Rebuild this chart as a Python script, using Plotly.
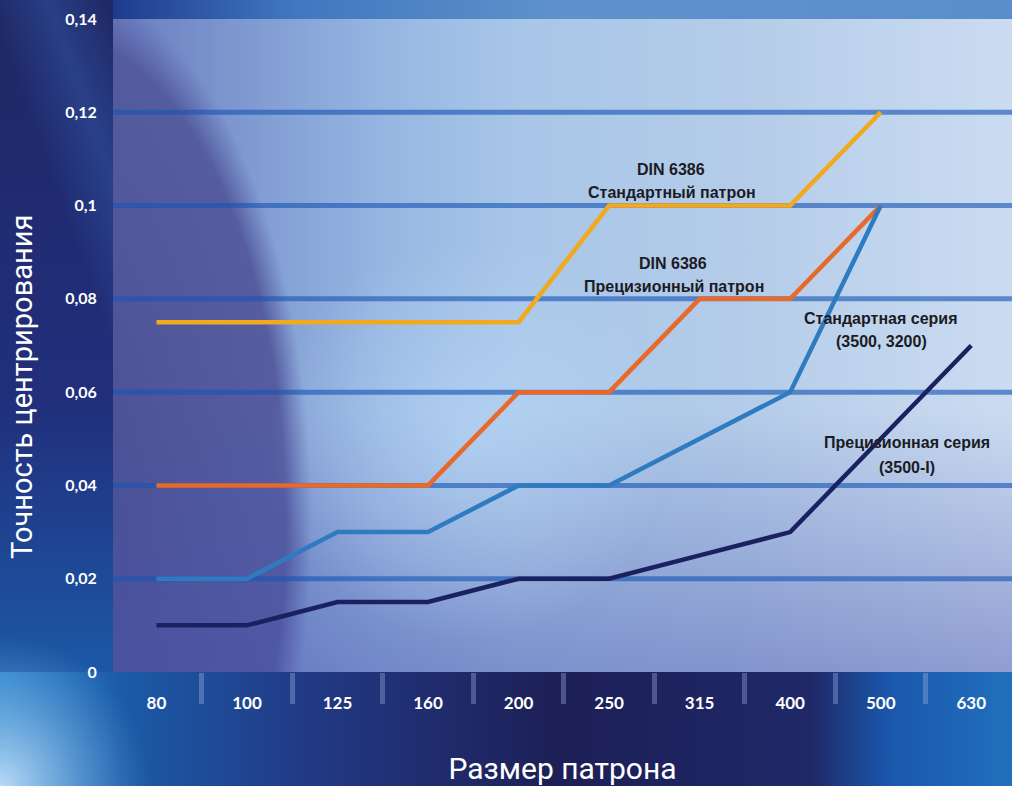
import base64
import plotly.graph_objects as go

# ---------------- data ----------------
sizes = ["80", "100", "125", "160", "200", "250", "315", "400", "500", "630"]
din_standard = [0.075, 0.075, 0.075, 0.075, 0.075, 0.1, 0.1, 0.1, 0.12, None]
din_precision = [0.04, 0.04, 0.04, 0.04, 0.06, 0.06, 0.08, 0.08, 0.1, None]
std_series = [0.02, 0.02, 0.03, 0.03, 0.04, 0.04, 0.05, 0.06, 0.1, None]
prec_series = [0.01, 0.01, 0.015, 0.015, 0.02, 0.02, 0.025, 0.03, 0.05, 0.07]
grid_values = [0.02, 0.04, 0.06, 0.08, 0.1, 0.12]
y_ticks = [0, 0.02, 0.04, 0.06, 0.08, 0.1, 0.12, 0.14]

W, H = 1012, 786
PX_L, PX_T, PX_B = 113, 19, 672  # plot panel edges in px

# ---------------- decorative background (svg) ----------------
svg = f'''<svg xmlns="http://www.w3.org/2000/svg" width="{W}" height="{H}" viewBox="0 0 {W} {H}" preserveAspectRatio="none">
<defs>
<clipPath id="pclip"><rect x="{PX_L}" y="{PX_T}" width="{W - PX_L}" height="{PX_B - PX_T}"/></clipPath>
<linearGradient id="bot" gradientUnits="userSpaceOnUse" x1="0" y1="0" x2="{W}" y2="0">
 <stop offset="0" stop-color="#2f86cc"/><stop offset="0.12" stop-color="#1b5ba8"/>
 <stop offset="0.3" stop-color="#223a86"/><stop offset="0.55" stop-color="#1d1f56"/>
 <stop offset="0.8" stop-color="#1f2868"/><stop offset="0.88" stop-color="#1a58ac"/>
 <stop offset="1" stop-color="#2170bc"/>
</linearGradient>
<linearGradient id="left" gradientUnits="userSpaceOnUse" x1="0" y1="0" x2="0" y2="{PX_B}">
 <stop offset="0" stop-color="#1f2764"/><stop offset="0.6" stop-color="#212f7c"/>
 <stop offset="1" stop-color="#1c58a6"/>
</linearGradient>
<linearGradient id="streak" gradientUnits="userSpaceOnUse" x1="0" y1="40" x2="110" y2="0">
 <stop offset="0" stop-color="#3a6ac0" stop-opacity="0"/><stop offset="0.5" stop-color="#3a6ac0" stop-opacity="0.35"/>
 <stop offset="1" stop-color="#3a6ac0" stop-opacity="0"/>
</linearGradient>
<linearGradient id="top" gradientUnits="userSpaceOnUse" x1="{PX_L}" y1="0" x2="{W}" y2="0">
 <stop offset="0" stop-color="#1f3a8c"/><stop offset="0.2" stop-color="#3f78bf"/>
 <stop offset="0.5" stop-color="#5f92cc"/><stop offset="1" stop-color="#5a8ecb"/>
</linearGradient>
<radialGradient id="corner" gradientUnits="userSpaceOnUse" cx="0" cy="{H}" r="150">
 <stop offset="0" stop-color="#b8daf6" stop-opacity="1"/><stop offset="1" stop-color="#6aa8e0" stop-opacity="0"/>
</radialGradient>
<linearGradient id="panel" gradientUnits="userSpaceOnUse" x1="{PX_L}" y1="0" x2="{W}" y2="0">
 <stop offset="0" stop-color="#6a7cc0"/><stop offset="0.15" stop-color="#7f9ad0"/>
 <stop offset="0.3" stop-color="#96b6e2"/>
 <stop offset="0.45" stop-color="#a8c6e8"/><stop offset="0.7" stop-color="#b4cce9"/>
 <stop offset="1" stop-color="#cbdcf1"/>
</linearGradient>
<radialGradient id="darkarc">
 <stop offset="0" stop-color="#474c8e" stop-opacity="0.95"/>
 <stop offset="0.9" stop-color="#535a9e" stop-opacity="0.95"/>
 <stop offset="1" stop-color="#5a62a6" stop-opacity="0"/>
</radialGradient>
<linearGradient id="pdark" gradientUnits="userSpaceOnUse" x1="0" y1="{PX_T}" x2="0" y2="{PX_B}">
 <stop offset="0" stop-color="#4650aa" stop-opacity="0"/><stop offset="0.6" stop-color="#4650aa" stop-opacity="0"/>
 <stop offset="1" stop-color="#4650aa" stop-opacity="0.45"/>
</linearGradient>
<radialGradient id="glow" gradientUnits="userSpaceOnUse" cx="470" cy="440" r="200">
 <stop offset="0" stop-color="#bedcf8" stop-opacity="0.55"/><stop offset="1" stop-color="#bedcf8" stop-opacity="0"/>
</radialGradient>
</defs>
<rect x="0" y="0" width="{W}" height="{H}" fill="#212a6c"/>
<rect x="0" y="0" width="{PX_L}" height="{PX_B}" fill="url(#left)"/>
<rect x="0" y="0" width="{PX_L}" height="{PX_B}" fill="url(#streak)"/>
<rect x="0" y="{PX_B}" width="{W}" height="{H - PX_B}" fill="url(#bot)"/>
<rect x="{PX_L}" y="0" width="{W - PX_L}" height="{PX_T}" fill="url(#top)"/>
<rect x="0" y="0" width="{W}" height="{H}" fill="url(#corner)"/>
<g clip-path="url(#pclip)">
<rect x="{PX_L}" y="{PX_T}" width="{W - PX_L}" height="{PX_B - PX_T}" fill="url(#panel)"/>
<ellipse cx="50" cy="520" rx="262" ry="540" fill="url(#darkarc)"/>
<rect x="{PX_L}" y="{PX_T}" width="{W - PX_L}" height="{PX_B - PX_T}" fill="url(#pdark)"/>
<rect x="{PX_L}" y="{PX_T}" width="{W - PX_L}" height="{PX_B - PX_T}" fill="url(#glow)"/>
</g>
</svg>'''
bg_uri = "data:image/svg+xml;base64," + base64.b64encode(svg.encode("utf-8")).decode("ascii")

# ---------------- figure ----------------
fig = go.Figure()

series = [
    ("DIN 6386 Стандартный патрон", din_standard, "#f2a81f"),
    ("DIN 6386 Прецизионный патрон", din_precision, "#e8692a"),
    ("Стандартная серия (3500, 3200)", std_series, "#2f7bc0"),
    ("Прецизионная серия (3500-I)", prec_series, "#1b2160"),
]
for name, vals, col in series:
    fig.add_trace(go.Scatter(x=sizes, y=vals, mode="lines", name=name,
                             line=dict(color=col, width=4.5), connectgaps=False,
                             hoverinfo="x+y+name"))

for g in grid_values:
    fig.add_hline(y=g, line=dict(color="rgba(25,85,180,0.62)", width=5), layer="below")

fig.add_layout_image(dict(source=bg_uri, xref="paper", yref="paper", x=0, y=1,
                          sizex=1, sizey=1, sizing="stretch", xanchor="left",
                          yanchor="top", layer="below"))

ann_font = dict(family="Liberation Sans, Arial, sans-serif", size=16, color="#1b1b24")
labels = [
    ("DIN 6386", 671, 169), ("Стандартный патрон", 672, 193),
    ("DIN 6386", 673, 263), ("Прецизионный патрон", 674, 287),
    ("Стандартная серия", 881, 318), ("(3500, 3200)", 881, 342),
    ("Прецизионная серия", 907, 443), ("(3500-I)", 907, 467),
]
for txt, px, py in labels:
    fig.add_annotation(text=f"<b>{txt}</b>",
                       xref="paper", yref="paper", x=px / W, y=1 - py / H,
                       showarrow=False, font=ann_font, xanchor="center", yanchor="middle")

fig.add_annotation(text="Точность центрирования", xref="paper", yref="paper",
                   x=22 / W, y=1 - 387 / H, textangle=-90, showarrow=False,
                   font=dict(family="Liberation Sans Narrow, Roboto, sans-serif", size=29, color="white"),
                   xanchor="center", yanchor="middle")

fig.update_layout(
    width=W, height=H,
    margin=dict(l=0, r=0, t=0, b=0),
    paper_bgcolor="#212a6c",
    plot_bgcolor="rgba(0,0,0,0)",
    separators=", ",
    showlegend=False,
    xaxis=dict(
        domain=[PX_L / W, 1], type="category", range=[-0.48, 9.45],
        showgrid=False, zeroline=False, showline=False,
        ticks="outside", tickson="boundaries", ticklen=31, tickwidth=5,
        tickcolor="rgba(170,185,235,0.35)", ticklabelstandoff=19,
        tickfont=dict(family="Lato, sans-serif", size=17, color="white", weight="bold"),
        automargin=False,
        title=dict(text="Размер патрона", standoff=80,
                   font=dict(family="Liberation Sans Narrow, Roboto, sans-serif", size=30, color="white")),
    ),
    yaxis=dict(
        domain=[1 - PX_B / H, 1 - PX_T / H], range=[0, 0.14],
        tickvals=y_ticks, showgrid=False, zeroline=False, showline=False,
        ticks="outside", ticklen=12, tickcolor="rgba(0,0,0,0)",
        tickfont=dict(family="Lato, sans-serif", size=16, color="white", weight="bold"),
        automargin=False,
    ),
)

fig.write_html("out.html", config={"displayModeBar": False},
               post_script="document.body.style.margin='0';document.body.style.overflow='hidden';")
